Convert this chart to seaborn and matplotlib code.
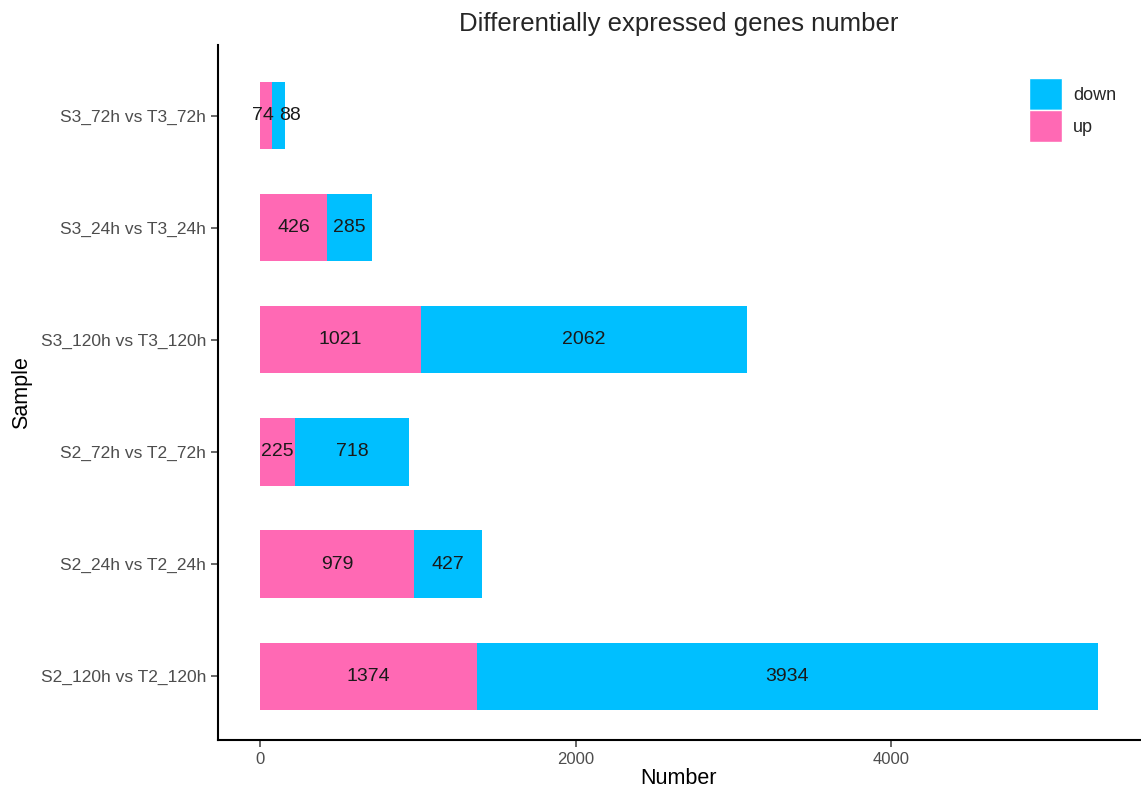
import matplotlib
matplotlib.use("Agg")
import matplotlib.pyplot as plt
import seaborn as sns
import pandas as pd
from matplotlib.patches import Patch

samples = ["S3_72h vs T3_72h", "S3_24h vs T3_24h", "S3_120h vs T3_120h",
           "S2_72h vs T2_72h", "S2_24h vs T2_24h", "S2_120h vs T2_120h"]
up = [74, 426, 1021, 225, 979, 1374]
down = [88, 285, 2062, 718, 427, 3934]

up_color = "#FF69B4"
down_color = "#00BFFF"

sns.set_theme(style="ticks")
plt.rcParams['font.family'] = ['Liberation Sans', 'DejaVu Sans']

df = pd.DataFrame({"Sample": samples, "up": up, "down": down})
df["total"] = df["up"] + df["down"]

fig = plt.figure(figsize=(11.41, 7.89), dpi=100)
ax = fig.add_axes([0.191, 0.062, 0.808, 0.881])

sns.barplot(data=df, y="Sample", x="total", order=samples, color=down_color,
            width=0.6, orient="h", ax=ax, saturation=1, linewidth=0)
sns.barplot(data=df, y="Sample", x="up", order=samples, color=up_color,
            width=0.6, orient="h", ax=ax, saturation=1, linewidth=0)

for i, (u, d) in enumerate(zip(up, down)):
    narrow = (u + d) < 300
    ax.annotate(str(u), (u / 2, i), xytext=(-2 if narrow else 0, 0), textcoords="offset points",
                ha="center", va="center", fontsize=14, color="#1a1a1a")
    ax.annotate(str(d), (u + d / 2, i), xytext=(8 if narrow else 0, 0), textcoords="offset points",
                ha="center", va="center", fontsize=14, color="#1a1a1a")

xmax = max(df["total"])
ax.set_xlim(-0.05 * xmax, 1.05 * xmax)
ax.set_ylim(len(samples) - 1 + 0.57, -0.63)
ax.set_xticks([0, 2000, 4000])

for s in ["top", "right"]:
    ax.spines[s].set_visible(False)
for s in ["left", "bottom"]:
    ax.spines[s].set_linewidth(1.5)
    ax.spines[s].set_color("black")

ax.tick_params(axis="both", colors="#4D4D4D", labelsize=12, length=5, width=1.2, labelcolor="#4D4D4D")
ax.tick_params(axis="y", labelsize=12.5)
ax.set_xlabel("Number", fontsize=15.5, color="black", labelpad=1)
ax.set_ylabel("Sample", fontsize=15.5, color="black", labelpad=6)
fig.suptitle("Differentially expressed genes number", fontsize=18.5, y=0.985, x=0.595)

handles = [Patch(facecolor=down_color, edgecolor="white", label="down"),
           Patch(facecolor=up_color, edgecolor="white", label="up")]
fig.legend(handles=handles, loc="upper left", bbox_to_anchor=(0.894, 0.912),
           frameon=False, fontsize=13, handlelength=1.85, handleheight=2.35,
           handletextpad=0.6, labelspacing=0.0, borderpad=0)

fig.savefig("out.png", dpi=100)
